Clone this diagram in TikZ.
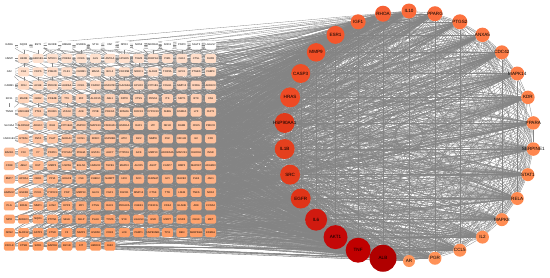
\documentclass[tikz,border=0pt]{standalone}
\usepackage{fontspec}
\setmainfont{Liberation Sans}
\definecolor{edgegray}{RGB}{132, 132, 132}
\definecolor{cellpale}{RGB}{255, 226, 208}
\definecolor{celldeep}{RGB}{255, 154, 96}
\pgfdeclarelayer{background}
\pgfsetlayers{background,main}

\begin{document}
\begin{tikzpicture}[x=1pt, y=1pt,
    cell/.style={rounded corners=1.5pt, minimum width=11pt, minimum height=9pt, inner sep=0pt, font=\fontsize{2.6}{3}\selectfont},
    hub/.style={circle, inner sep=0pt},
    hubtext/.style={font=\fontsize{4.6}{5}\selectfont, text=black, inner sep=0pt},
    link/.style={draw=edgegray, line width=0.3pt}]
    \useasboundingbox (0, 0) rectangle (550, 277);
    \pgfmathsetseed{7}

    % Target grid (pale = few links)
    \foreach \name [count=\k from 0] in {
        RARA, NQO2, BST1, BLVRB, HMGB1, ESRRG, ST14, FAP, NPR3, NOS3, ADORA1, SOD3, PNPO, SGLT2, LGALS7,
        HNMT, HEXB, AKR1B1, NTRK1, PDE5A, CDK6, GLS, AMY1A, HPGDS, TGM2, FKBP1A, PIM1, CA12, CTSL, DHFR,
        CA2, CA1, FDPS, PDE4D, PLK1, CHRM1, MAOA, BCL2, CDC25B, NR3C1, ALDH2, TOP2A, GPX1, PTGES, FABP4,
        CARM1, XDH, ACHE, PRKCB, AURKA, CDK1, FGFR2, HSD17B1, PLA2G2A, EPHX2, CYP1B1, FOLH1, MMP12, RXRA, AKR1C3,
        KIF11, MAOB, GRB2, PDE4B, TTK, MIF, ALOX15, ABL1, DPP8, CTSS, PRSS1, ITK, SIRT1, BTK, CA9,
        TNNI3, HSD11B2, PTK2, PIK3R1, LTA4H, ACE, PPIB, PRKCA, KDM4A, ROCK1, CYP2C19, SHBG, ESRRA, LYZ, CHIT1,
        SLC6A4, ALOX5AP, ADH1C, IDH1, CYP19A1, AMPD3, MAPK10, CSNK2A1, HSPA1A, RAF1, LTF, NR1I2, RARB, CDK5, PRKCD,
        HSD11B1, HTRA1, FNTA, PLAT, AKR1A1, NOS1, RORC, HSP90B1, ATIC, IGF2, MMP8, PGF, NR1H3, GC, CFD,
        BACE1, F10, F7, PDPK1, CYP3A4, PDE4A, GSTA1, AHCY, PTPN11, GCK, MMP10, ADORA2A, MAP2K1, DHODH, INSR,
        CD38, ABL2, DUT, MMP2, HSPA5, EGLN1, HMGCR, TGFB1, MAPK3, ALOX5, AGXT, CASP7, BMP2, MAP2K7, ADAM10,
        BMP7, APOA1, CBR1, PPIA, HDAC8, CSK, CHEK2, NAMPT, HCK, SCD, CHRNA7, GPI, BACE2, PLK4, JAK1,
        ADAM17, GSK3B, PCK1, CYP2C9, PNP, MMP13, GLO1, FGF1, FGFR1, MMP14, CTSK, TTR, LDHB, TNKS, NOX4,
        PLG, BCHE, MMP1, LCN2, DPP4, MPI, CTSG, RAC1, PRKACA, CHEK1, PIK3CG, CDK4, ELANE, ADK, CCNA2,
        MPO, AKR1C1, NQO1, PTPN1, SELE, SELP, PLAU, TYMS, SYK, LGALS3, GSR, MMP7, ESR2, CHUK, MET,
        NOS2, ALOX12, GSTP1, CTSD, F2, MMP3, HSPA8, CDK2, LCK, PARP1, HSP90AB1, TPI1, REN, SERPINA1, KDM1A,
        CXCL8, CTSB, SOD1, GAPDH, IGF1R, KIT, HMOX1, JAK2}{
        \pgfmathtruncatemacro\row{\k/15}
        \pgfmathtruncatemacro\col{\k-15*\row}
        \pgfmathtruncatemacro\p{max(0, (\k-15)/217*100)}
        \pgfmathtruncatemacro\w{(\row==0 || (\col==0 && \row<8)) ? 0 : 100}
        \node[cell, fill=celldeep!\p!cellpale!\w!white] (g\k) at ({9.3+14.38*\col}, {232-13.4*\row}) {\name};
    }

    % Hub circle, largest first, running clockwise from the bottom
    \foreach \gene/\d/\hex [count=\i] in {
        ALB/27/B00000, TNF/25/C00000, AKT1/24/C40808, IL6/22/D01A10, EGFR/20/E03418,
        SRC/20/E33C1C, IL1B/20/E4401E, HSP90AA1/20/E23A1A, HRAS/20/EE4A24, CASP3/19/F04E26,
        MMP9/18.5/F24E26, ESR1/18/F4562C, IGF1/15/F86434, RHOA/16/F66034, IL10/15/FA6A3A,
        PPARG/15/FA6C3C, PTGS2/15/FC723F, ANXA5/14.5/FD7844, CDC42/14/FD7C46, MAPK14/14/FE7E48,
        KDR/13.5/FE824A, PPARA/13.5/FE844C, SERPINE1/13.5/FE864E, STAT1/13/FE884E, RELA/13/FF8A50,
        MAPK8/13/FF8C52, IL2/13/FF8E54, CCL5/13/FF9056, PGR/13/FF9258, AR/12/FF955A}{
        \definecolor{hubfill}{HTML}{\hex}
        \pgfmathsetmacro\ang{-102-12*(\i-1)}
        \node[hub, fill=hubfill, minimum size=\d pt,
            label={[hubtext]center:\gene}] (h\i) at ([shift={(409, 141)}] \ang:125) {};
    }

    \begin{pgfonlayer}{background}
        % Hub to hub
        \foreach \i in {1,...,29}{
            \pgfmathtruncatemacro\nxt{\i+1}
            \foreach \j in {\nxt,...,30}{
                \pgfmathtruncatemacro\keep{rnd < 1.15-0.01*(\i+\j)}
                \ifnum\keep=1 \draw[link] (h\i) -- (h\j); \fi
            }
        }
        % Grid to hub
        \foreach \k in {0,...,232}{
            \pgfmathtruncatemacro\deg{3+\k/24}
            \foreach \e in {1,...,\deg}{
                \pgfmathtruncatemacro\t{1+29.99*rnd^1.4}
                \draw[link] (g\k) -- (h\t);
            }
        }
        % Grid to grid, top rows
        \foreach \k in {0,...,74}{
            \pgfmathtruncatemacro\m{\k+13+4*rnd}
            \draw[link] (g\k) -- (g\m);
        }
    \end{pgfonlayer}
\end{tikzpicture}
\end{document}
